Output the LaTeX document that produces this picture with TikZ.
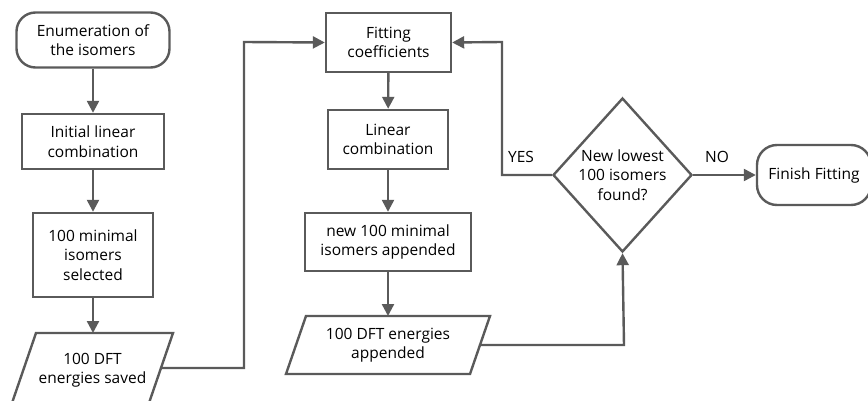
\documentclass[tikz,border=0pt]{standalone}
\usepackage{fontspec}
\setmainfont{Open Sans}
\usetikzlibrary{shapes.geometric,arrows.meta}
\definecolor{ln}{RGB}{90,90,90}
\begin{document}
\begin{tikzpicture}[x=1pt,y=-1pt,
  every node/.style={font=\fontsize{15.5}{19.5}\selectfont, align=center, inner sep=0pt},
  box/.style={draw=ln, line width=2.4pt, rectangle, fill=white},
  rbox/.style={draw=ln, line width=2.4pt, rectangle, rounded corners=19pt, fill=white},
  dia/.style={draw=ln, line width=2.4pt, diamond, aspect=0.9},
  conn/.style={draw=ln, line width=2.4pt},
  arr/.style={conn, -{Triangle[length=12pt,width=12pt]}},
  lbl/.style={font=\fontsize{15.5}{18}\selectfont}
]
\useasboundingbox (0,0) rectangle (868,401);
\clip (0,0) rectangle (868,401);

% left column
\node[rbox, minimum width=153pt, minimum height=55pt] (e1) at (93,40) {Enumeration of\\the isomers};
\node[box, minimum width=142pt, minimum height=55pt] (i1) at (93,141.5) {Initial linear\\combination};
\node[box, minimum width=120pt, minimum height=84pt] (m1) at (93,255) {100 minimal\\isomers\\selected};
\draw[ln, line width=2.4pt, fill=white] (36,333) -- (173,333) -- (149,403) -- (12,403) -- cycle;
\node (p1) at (92.5,370) {100 DFT\\energies saved};
\coordinate (p1t) at (93,333);
\coordinate (p1r) at (161,368);
\coordinate (c1) at (244,368);
\coordinate (c2) at (244,42);

% middle column
\node[box, minimum width=125pt, minimum height=59pt] (f) at (388.5,42.5) {Fitting\\coefficients};
\node[box, minimum width=120pt, minimum height=59pt] (l) at (388,139.5) {Linear\\combination};
\node[box, minimum width=166pt, minimum height=58pt] (n) at (388,242) {new 100 minimal\\isomers appended};
\draw[ln, line width=2.4pt, fill=white] (306,316) -- (490,316) -- (470,374) -- (286,374) -- cycle;
\node (p2) at (388,345) {100 DFT energies\\appended};
\coordinate (p2t) at (388,316);
\coordinate (p2r) at (480,345);
\coordinate (c3) at (624,345);

% decision
\node[dia, minimum width=139pt, minimum height=154pt] (d) at (622.5,175) {New lowest\\100 isomers\\found?};
\coordinate (c4) at (502,175);
\coordinate (c5) at (502,42);
\node[rbox, minimum width=114pt, minimum height=60pt, rounded corners=20pt] (fin) at (814,175) {Finish Fitting};

\node[lbl] (yes) at (521,157) {YES};
\node[lbl] (no) at (717,157) {NO};

% connectors
\draw[arr] (e1) -- (i1);
\draw[arr] (i1) -- (m1);
\draw[arr] (m1) -- (p1t);
\draw[arr] (p1r) -- (c1) -- (c2) -- (f.west);
\draw[arr] (f) -- (l);
\draw[arr] (l) -- (n);
\draw[arr] (n) -- (p2t);
\draw[arr] (p2r) -- (c3) -- (d.south);
\draw[arr] (d.west) -- (c4) -- (c5) -- (f.east);
\draw[arr] (d.east) -- (fin.west);
\end{tikzpicture}
\end{document}
